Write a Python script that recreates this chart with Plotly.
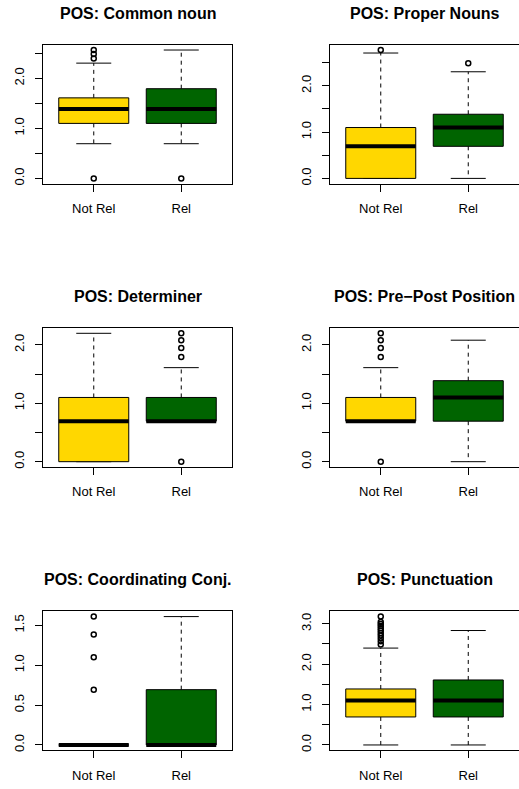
import plotly.graph_objects as go

# ---------------- data ----------------
categories = ["Not Rel", "Rel"]
titles = ["POS: Common noun", "POS: Proper Nouns", "POS: Determiner",
          "POS: Pre\u2212Post Position", "POS: Coordinating Conj.", "POS: Punctuation"]

# per panel: [Not Rel, Rel]
lower_whisker = [[0.693, 0.693], [0.0, 0.0], [0.0, 0.693], [0.693, 0.0], [0.0, 0.0], [0.0, 0.0]]
q1 = [[1.099, 1.099], [0.0, 0.693], [0.0, 0.693], [0.693, 0.693], [0.0, 0.0], [0.693, 0.693]]
median = [[1.386, 1.386], [0.693, 1.099], [0.693, 0.693], [0.693, 1.099], [0.0, 0.0], [1.099, 1.099]]
q3 = [[1.609, 1.792], [1.099, 1.386], [1.099, 1.099], [1.099, 1.386], [0.0, 0.693], [1.386, 1.609]]
upper_whisker = [[2.303, 2.565], [2.708, 2.303], [2.197, 1.609], [1.609, 2.079], [0.0, 1.609], [2.398, 2.833]]
outliers = [
    [[0.0, 2.398, 2.485, 2.565], [0.0]],
    [[2.773], [2.485]],
    [[], [0.0, 1.792, 1.946, 2.079, 2.197]],
    [[0.0, 1.792, 1.946, 2.079, 2.197], []],
    [[0.693, 1.099, 1.386, 1.609], []],
    [[2.485, 2.565, 2.639, 2.708, 2.773, 2.833, 2.890, 2.944, 2.996, 3.045, 3.178], []],
]

ytick_vals = [
    [0, 0.5, 1, 1.5, 2, 2.5],
    [0, 0.5, 1, 1.5, 2, 2.5],
    [0, 0.5, 1, 1.5, 2],
    [0, 0.5, 1, 1.5, 2],
    [0, 0.5, 1, 1.5],
    [0, 0.5, 1, 1.5, 2, 2.5, 3],
]
ytick_text = [
    ["0.0", "", "1.0", "", "2.0", ""],
    ["0.0", "", "1.0", "", "2.0", ""],
    ["0.0", "", "1.0", "", "2.0"],
    ["0.0", "", "1.0", "", "2.0"],
    ["0.0", "0.5", "1.0", "1.5"],
    ["0.0", "", "1.0", "", "2.0", "", "3.0"],
]

fill_colors = ["#FFD700", "#006400"]

# ---------------- layout geometry ----------------
W, H = 519, 789
col_px = [(43, 232), (330, 519)]
row_px = [(45, 184), (329, 468), (613, 752)]
title_px = [14, 297, 581]
FONT = "Liberation Sans, Arial, Helvetica, sans-serif"

fig = go.Figure()
layout = dict(
    width=W, height=H, margin=dict(l=0, r=0, t=0, b=0),
    paper_bgcolor="white", plot_bgcolor="white", showlegend=False,
    font=dict(family=FONT, size=13, color="black"),
)
annotations = []

BW = 0.4   # half box width
CW = 0.2   # half cap width

for p in range(6):
    r, c = divmod(p, 2)
    ax = "" if p == 0 else str(p + 1)
    xref, yref = "x" + ax, "y" + ax
    for g in range(2):
        xc = g + 1
        lo, a, m, b, up = (lower_whisker[p][g], q1[p][g], median[p][g],
                           q3[p][g], upper_whisker[p][g])
        # whiskers (dashed)
        fig.add_trace(go.Scatter(
            x=[xc, xc, None, xc, xc], y=[b, up, None, a, lo], mode="lines",
            line=dict(color="black", width=1, dash="4px,4px"),
            xaxis=xref, yaxis=yref, hoverinfo="skip"))
        # caps
        fig.add_trace(go.Scatter(
            x=[xc - CW, xc + CW, None, xc - CW, xc + CW], y=[up, up, None, lo, lo],
            mode="lines", line=dict(color="black", width=1),
            xaxis=xref, yaxis=yref, hoverinfo="skip"))
        # box
        fig.add_trace(go.Scatter(
            x=[xc - BW, xc + BW, xc + BW, xc - BW, xc - BW], y=[a, a, b, b, a],
            mode="lines", fill="toself", fillcolor=fill_colors[g],
            line=dict(color="black", width=1),
            xaxis=xref, yaxis=yref, hoverinfo="skip"))
        # median
        fig.add_trace(go.Scatter(
            x=[xc - BW, xc + BW], y=[m, m], mode="lines",
            line=dict(color="black", width=4),
            xaxis=xref, yaxis=yref, hoverinfo="skip"))
        # outliers
        if outliers[p][g]:
            fig.add_trace(go.Scatter(
                x=[xc] * len(outliers[p][g]), y=outliers[p][g], mode="markers",
                marker=dict(symbol="circle-open", size=5, color="black",
                            line=dict(width=1.5, color="black")),
                xaxis=xref, yaxis=yref, hoverinfo="skip"))

    # y range R-style (4% extension)
    allv = []
    for g in range(2):
        allv += [lower_whisker[p][g], upper_whisker[p][g]] + outliers[p][g]
    vmin, vmax = min(allv), max(allv)
    span = vmax - vmin
    yr = [vmin - 0.04 * span, vmax + 0.04 * span]

    x0, x1 = col_px[c]
    y0, y1 = row_px[r]
    layout["xaxis" + ax] = dict(
        domain=[x0 / W, x1 / W], anchor=yref, range=[0.42, 2.58],
        tickvals=[1, 2], ticktext=categories, ticks="outside", ticklen=7,
        tickcolor="black", showline=True, linecolor="black", linewidth=1,
        mirror=True, showgrid=False, zeroline=False, fixedrange=True,
        ticklabelstandoff=6, tickfont=dict(size=13, color="black"),
    )
    layout["yaxis" + ax] = dict(
        domain=[1 - y1 / H, 1 - y0 / H], anchor=xref, range=yr,
        tickvals=ytick_vals[p], ticktext=ytick_text[p], ticks="outside",
        ticklen=7, tickcolor="black", tickangle=-90,
        showline=True, linecolor="black", linewidth=1, mirror=(c == 0),
        showgrid=False, zeroline=False, fixedrange=True,
        ticklabelstandoff=6, tickfont=dict(size=13, color="black"),
    )
    annotations.append(dict(
        text="<b>" + titles[p] + "</b>", xref="paper", yref="paper",
        x=(x0 + x1) / 2 / W, y=1 - title_px[r] / H, xanchor="center",
        yanchor="middle", showarrow=False,
        font=dict(family=FONT, size=16, color="black")))

layout["annotations"] = annotations
fig.update_layout(**layout)
fig.write_html("out.html")
